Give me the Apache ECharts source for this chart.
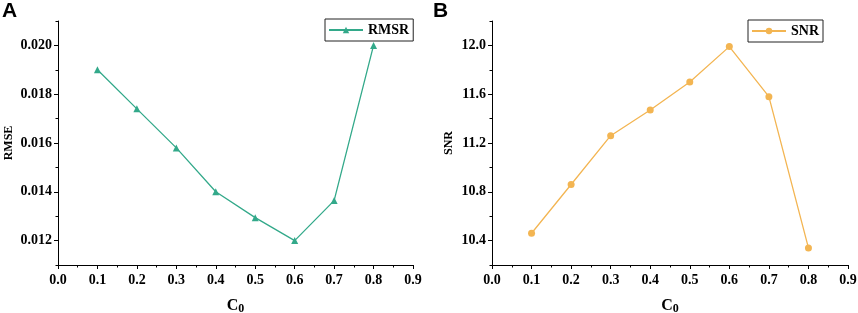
<!DOCTYPE html>
<html>
<head>
<meta charset="utf-8">
<script src="https://cdn.jsdelivr.net/npm/echarts@6/dist/echarts.min.js"></script>
<style>html,body{margin:0;padding:0;background:#fff}#c{width:858px;height:313px}</style>
</head>
<body>
<div id="c"></div>
<script>
const c0 = [0.1, 0.2, 0.3, 0.4, 0.5, 0.6, 0.7, 0.8];
const rmse = [0.0190, 0.0174, 0.0158, 0.0140, 0.01294, 0.0120, 0.01364, 0.0200];
const snr = [10.46, 10.86, 11.26, 11.47, 11.70, 11.99, 11.58, 10.34];
const xTicks = [0, 0.1, 0.2, 0.3, 0.4, 0.5, 0.6, 0.7, 0.8, 0.9];
const rmseTicks = [0.012, 0.014, 0.016, 0.018, 0.020];
const rmseMinorTicks = [0.011, 0.013, 0.015, 0.017, 0.019, 0.021];
const snrTicks = [10.4, 10.8, 11.2, 11.6, 12.0];
const snrMinorTicks = [10.2, 10.6, 11.0, 11.4, 11.8, 12.2];

const serif = '"Liberation Serif","Times New Roman",serif';
const green = '#33a98a';
const orange = '#f3b552';

function xAxisCfg(gi) {
  return {
    type: 'value', gridIndex: gi, min: 0, max: 0.9, interval: 0.1,
    axisLine: {lineStyle: {color: '#000', width: 1}},
    axisTick: {length: 4, lineStyle: {color: '#000'}},
    minorTick: {show: true, splitNumber: 2, length: 2.5, lineStyle: {color: '#000'}},
    splitLine: {show: false},
    axisLabel: {color: '#000', fontFamily: serif, fontWeight: 'bold', fontSize: 14, margin: 8,
      formatter: v => v.toFixed(1)},
    name: '{c|C}{s|0}', nameLocation: 'middle', nameGap: 31,
    nameTextStyle: {rich: {
      c: {fontFamily: serif, fontWeight: 'bold', fontSize: 16, color: '#000'},
      s: {fontFamily: serif, fontWeight: 'bold', fontSize: 12, color: '#000', padding: [7, 0, 0, 0]}
    }}
  };
}
function yMain(gi, min, max, ticks, dec, name, gap) {
  return {
    type: 'value', gridIndex: gi, min: min, max: max, position: 'left',
    axisLine: {show: true, lineStyle: {color: '#000', width: 1}},
    axisTick: {show: true, length: 4, customValues: ticks, lineStyle: {color: '#000'}},
    axisLabel: {color: '#000', fontFamily: serif, fontWeight: 'bold', fontSize: 14, margin: 6,
      customValues: ticks, formatter: v => v.toFixed(dec)},
    splitLine: {show: false},
    name: name, nameLocation: 'middle', nameGap: gap, nameRotate: 90,
    nameTextStyle: {fontFamily: serif, fontWeight: 'bold', fontSize: 12, color: '#000'}
  };
}
function yMinor(gi, min, max, ticks) {
  return {
    type: 'value', gridIndex: gi, min: min, max: max, position: 'left', offset: 0,
    axisLine: {show: false},
    axisTick: {show: true, length: 2.5, customValues: ticks, lineStyle: {color: '#000'}},
    axisLabel: {show: false},
    splitLine: {show: false}
  };
}

const chart = echarts.init(document.getElementById('c'), null, {renderer: 'canvas'});
chart.setOption({
  animation: false,
  backgroundColor: '#fff',
  grid: [
    {left: 58, right: 445, top: 21, bottom: 48, containLabel: false, outerBoundsMode: 'none'},
    {left: 492, right: 10, top: 21, bottom: 48, containLabel: false, outerBoundsMode: 'none'}
  ],
  xAxis: [xAxisCfg(0), xAxisCfg(1)],
  yAxis: [
    yMain(0, 0.011, 0.021, rmseTicks, 3, 'RMSE', 43),
    yMinor(0, 0.011, 0.021, rmseMinorTicks),
    yMain(1, 10.2, 12.2, snrTicks, 1, 'SNR', 37),
    yMinor(1, 10.2, 12.2, snrMinorTicks)
  ],
  legend: [
    {data: ['RMSR'], left: 325, top: 19, orient: 'horizontal',
     itemWidth: 34, itemHeight: 8, padding: [4, 4, 4, 3], itemGap: 4,
     borderColor: '#222', borderWidth: 1,
     textStyle: {fontFamily: serif, fontWeight: 'bold', fontSize: 14, color: '#000'}},
    {data: ['SNR'], left: 748, top: 20, orient: 'horizontal',
     itemWidth: 34, itemHeight: 8, padding: [4, 4, 4, 3], itemGap: 4,
     borderColor: '#222', borderWidth: 1,
     textStyle: {fontFamily: serif, fontWeight: 'bold', fontSize: 14, color: '#000'}}
  ],
  graphic: [
    {type: 'text', left: 2, top: 1, style: {text: 'A', font: 'bold 21px "Liberation Sans", Arial, sans-serif', fill: '#000'}},
    {type: 'text', left: 433, top: 1, style: {text: 'B', font: 'bold 21px "Liberation Sans", Arial, sans-serif', fill: '#000'}}
  ],
  series: [
    {name: 'RMSR', type: 'line', xAxisIndex: 0, yAxisIndex: 0,
     data: c0.map((x, i) => [x, rmse[i]]),
     symbol: 'triangle', symbolSize: 7, showAllSymbol: true,
     lineStyle: {color: green, width: 1.3}, itemStyle: {color: green}},
    {name: 'SNR', type: 'line', xAxisIndex: 1, yAxisIndex: 2,
     data: c0.map((x, i) => [x, snr[i]]),
     symbol: 'circle', symbolSize: 7, showAllSymbol: true,
     lineStyle: {color: orange, width: 1.3}, itemStyle: {color: orange}}
  ]
});
</script>
</body>
</html>
